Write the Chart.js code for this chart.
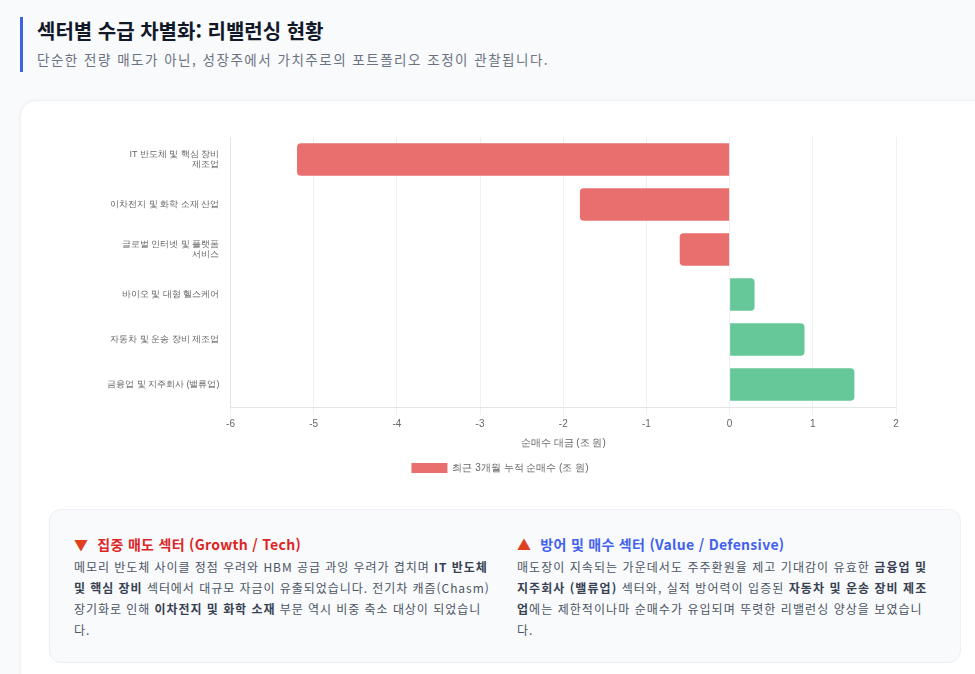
<!DOCTYPE html>
<html lang="ko">
<head>
<meta charset="UTF-8">
<title>섹터별 수급 차별화</title>
<script src="https://cdn.jsdelivr.net/npm/chart.js"></script>
<style>
    body {
        margin: 0;
        background: #f8fafc;
        font-family: "Noto Sans CJK KR", "Noto Sans", sans-serif;
        overflow: hidden;
        width: 975px;
        height: 674px;
    }

    .header {
        position: absolute;
        left: 20px;
        top: 17px;
        height: 55px;
        border-left: 3px solid #3b63e3;
        padding-left: 14px;
    }
    .header h1 {
        margin: 0;
        font-size: 20px;
        font-weight: 700;
        color: #111827;
        line-height: 28px;
    }
    .header p {
        margin: 4px 0 0 0;
        font-size: 13.5px;
        letter-spacing: 1.5px;
        color: #6b7280;
        line-height: 20px;
    }

    /* 흰색 카드 */
    .card {
        position: absolute;
        left: 20px;
        top: 100px;
        width: 968px;
        height: 600px;
        background: #fff;
        border-radius: 16px;
        box-shadow: 0 1px 4px rgba(0, 0, 0, 0.05);
        border: 1px solid #eef1f5;
    }
    .chart-box {
        position: absolute;
        left: 28px;
        top: 24px;
        width: 912px;
        height: 358px;
    }

    .info {
        position: absolute;
        left: 28px;
        top: 408px;
        width: 862px;
        height: 104px;
        padding: 24px;
        background: #f8fafc;
        border: 1px solid #edf0f4;
        border-radius: 12px;
        display: flex;
        gap: 24px;
    }
    .info .col {
        width: 420px;
    }
    .info h3 {
        margin: 0 0 2px 0;
        font-size: 14px;
        letter-spacing: 0.3px;
        font-weight: 700;
        line-height: 20px;
    }
    .info h3.sell { color: #dc2626; }
    .info h3.buy { color: #4361ee; }
    .info h3 .tri { color: #e0401f; margin-right: 9px; font-size: 14px; }
    .info p {
        margin: 0;
        font-size: 12px;
        letter-spacing: 0.95px;
        line-height: 21px;
        color: #4b5563;
    }
    .info .col.right p { letter-spacing: 1.05px; }
    .info b { color: #374151; }
</style>
</head>
<body>
    <div class="header">
        <h1>섹터별 수급 차별화: 리밸런싱 현황</h1>
        <p>단순한 전량 매도가 아닌, 성장주에서 가치주로의 포트폴리오 조정이 관찰됩니다.</p>
    </div>

    <div class="card">
        <div class="chart-box">
            <canvas id="flowChart"></canvas>
        </div>

        <div class="info">
            <div class="col">
                <h3 class="sell"><span class="tri">▼</span>집중 매도 섹터 (Growth / Tech)</h3>
                <p>메모리 반도체 사이클 정점 우려와 HBM 공급 과잉 우려가 겹치며 <b>IT 반도체 및 핵심 장비</b> 섹터에서 대규모 자금이 유출되었습니다. 전기차 캐즘(Chasm) 장기화로 인해 <b>이차전지 및 화학 소재</b> 부문 역시 비중 축소 대상이 되었습니다.</p>
            </div>
            <div class="col right">
                <h3 class="buy"><span class="tri">▲</span>방어 및 매수 섹터 (Value / Defensive)</h3>
                <p>매도장이 지속되는 가운데서도 주주환원율 제고 기대감이 유효한 <b>금융업 및 지주회사 (밸류업)</b> 섹터와, 실적 방어력이 입증된 <b>자동차 및 운송 장비 제조업</b>에는 제한적이나마 순매수가 유입되며 뚜렷한 리밸런싱 양상을 보였습니다.</p>
            </div>
        </div>
    </div>

<script>
    // 섹터 (줄바꿈 라벨 포함)
    const sectors = [
        ['IT 반도체 및 핵심 장비', '제조업'],
        '이차전지 및 화학 소재 산업',
        ['글로벌 인터넷 및 플랫폼', '서비스'],
        '바이오 및 대형 헬스케어',
        '자동차 및 운송 장비 제조업',
        '금융업 및 지주회사 (밸류업)'
    ];
    // 최근 3개월 누적 순매수 (조 원)
    const netBuy = [-5.2, -1.8, -0.6, 0.3, 0.9, 1.5];
    const xMin = -6;
    const xMax = 2;

    const sellColor = '#e96e6e';
    const buyColor = '#66c799';

    const ctx = document.getElementById('flowChart').getContext('2d');
    new Chart(ctx, {
        type: 'bar',
        data: {
            labels: sectors,
            datasets: [{
                label: '최근 3개월 누적 순매수 (조 원)',
                data: netBuy,
                backgroundColor: netBuy.map(v => v < 0 ? sellColor : buyColor),
                borderRadius: 4,
                borderSkipped: 'start'
            }]
        },
        options: {
            indexAxis: 'y',
            responsive: true,
            maintainAspectRatio: false,
            animation: false,
            layout: {
                padding: { left: 55, right: 65, top: 12 }
            },
            scales: {
                x: {
                    min: xMin,
                    max: xMax,
                    ticks: { stepSize: 1, color: '#666', font: { size: 10 } },
                    grid: { color: '#f0f0f0' },
                    border: { color: '#e5e5e5' },
                    title: {
                        display: true,
                        text: '순매수 대금 (조 원)',
                        color: '#666',
                        font: { size: 10 }
                    }
                },
                y: {
                    grid: { display: false },
                    border: { color: '#e5e5e5' },
                    ticks: { color: '#666', font: { size: 9 } }
                }
            },
            plugins: {
                legend: {
                    position: 'bottom',
                    labels: {
                        color: '#666',
                        font: { size: 10 },
                        boxWidth: 36,
                        boxHeight: 10
                    }
                },
                tooltip: { enabled: false }
            }
        }
    });
</script>
</body>
</html>
